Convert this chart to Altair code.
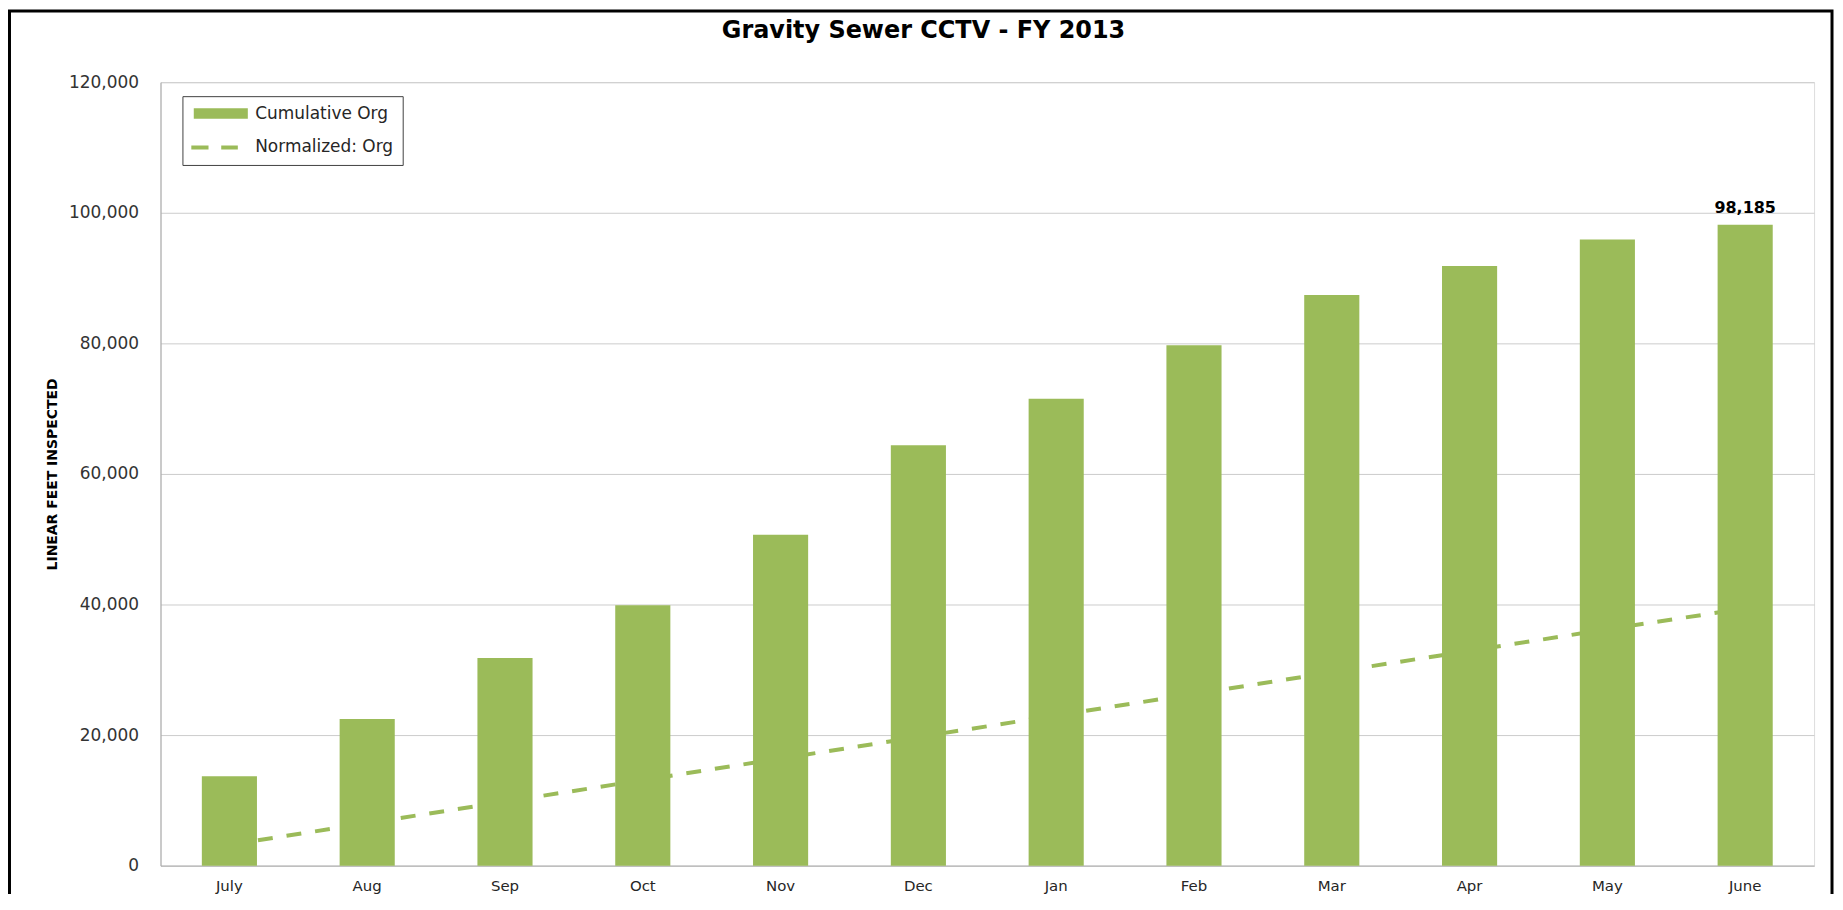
import altair as alt
import pandas as pd

# ---- data ----
months = ["July", "Aug", "Sep", "Oct", "Nov", "Dec", "Jan", "Feb", "Mar", "Apr", "May", "June"]
cumulative = [13700, 22450, 31800, 39900, 50700, 64400, 71500, 79700, 87400, 91850, 95900, 98185]
normalized = [3200, 6500, 9800, 13100, 16400, 19700, 23000, 26300, 29600, 32900, 36200, 39400]
series_names = ["Cumulative Org", "Normalized: Org"]
y_ticks = [0, 20000, 40000, 60000, 80000, 100000, 120000]
title_text = "Gravity Sewer CCTV - FY 2013"
y_title = "LINEAR FEET INSPECTED"

GREEN = "#9BBB59"
FONT = "DejaVu Sans"

rows = []
for m, c, n in zip(months, cumulative, normalized):
    rows.append({"month": m, "series": series_names[0], "value": c})
    rows.append({"month": m, "series": series_names[1], "value": n})
df = pd.DataFrame(rows)

x_enc = alt.X(
    "month:N", sort=months,
    scale=alt.Scale(paddingInner=0.6, paddingOuter=0.3),
    axis=alt.Axis(title=None, labelAngle=0, labelFont=FONT, labelFontSize=15,
                  labelColor="#262626", labelPadding=13, ticks=False, tickSize=0,
                  domainColor="#BFBFBF", domainWidth=1.5, grid=False),
)
y_enc = alt.Y(
    "value:Q",
    scale=alt.Scale(domain=[0, 120000], nice=False),
    axis=alt.Axis(values=y_ticks, format=",.0f", title=y_title,
                  titleFont=FONT, titleFontSize=14, titleFontWeight="bold", titleColor="black",
                  titleAngle=-90, titleX=-104, titleY=393, titleBaseline="alphabetic", titleAlign="center",
                  labelFont=FONT, labelFontSize=17, labelColor="#333333", labelPadding=22,
                  ticks=False, tickSize=0, domainColor="#A6A6A6", domainWidth=1,
                  grid=True, gridColor="#CCCCCC", gridWidth=1),
)

base = alt.Chart(df)

line = base.transform_filter(f"datum.series == '{series_names[1]}'").mark_line(
    color=GREEN, strokeWidth=4, strokeDash=[15, 14]
).encode(x=x_enc, y=y_enc)

bars = base.transform_filter(f"datum.series == '{series_names[0]}'").mark_bar(
    color=GREEN
).encode(x=x_enc, y=y_enc)

label = base.transform_filter(
    f"datum.series == '{series_names[0]}' && datum.month == 'June'"
).mark_text(dy=-12, baseline="alphabetic", font=FONT, fontSize=16, fontWeight="bold", color="black").encode(
    x=x_enc, y=y_enc, text=alt.Text("value:Q", format=",.0f")
)

RECT_PATH = "M-3.19,-0.62H3.19V0.62H-3.19Z"
DASH_PATH = "M-3.48,-0.24H-1.45V0.24H-3.48Z M0.05,-0.24H2.01V0.24H0.05Z"

legend_def = alt.Legend(
    title=None, orient="none", legendX=22, legendY=14, direction="vertical",
    strokeColor="#404040", fillColor="white", padding=9, rowPadding=16,
    labelFont=FONT, labelFontSize=17, labelColor="#262626", labelOffset=26,
    symbolOffset=21, symbolSize=289, symbolStrokeWidth=0, symbolOpacity=1,
)

legend_layer = base.transform_filter("datum.value < 0").mark_point(
    filled=True, size=289
).encode(
    x=x_enc, y=y_enc,
    color=alt.Color("series:N", scale=alt.Scale(domain=series_names, range=[GREEN, GREEN]), legend=legend_def),
    shape=alt.Shape("series:N", scale=alt.Scale(domain=series_names, range=[RECT_PATH, DASH_PATH]), legend=legend_def),
)

frame = alt.Chart(pd.DataFrame({"k": [0]})).mark_rect(
    filled=False, stroke="black", strokeWidth=3
).encode(
    x=alt.value(-151.5), x2=alt.value(1677), y=alt.value(-71.5), y2=alt.value(840)
)

chart = alt.layer(frame, line, bars, label, legend_layer).properties(
    width=1659, height=786,
    padding={"left": 153, "top": 73, "right": 21, "bottom": 27},
    autosize=alt.AutoSizeParams(type="none"),
    title=alt.TitleParams(title_text, font=FONT, fontSize=24, fontWeight="bold", color="black",
                          anchor="middle", dx=-64, dy=61, offset=8, baseline="alphabetic"),
).configure_view(strokeWidth=0).configure(background="white")

chart.save("out.html", embed_options={"renderer": "svg", "actions": False})
